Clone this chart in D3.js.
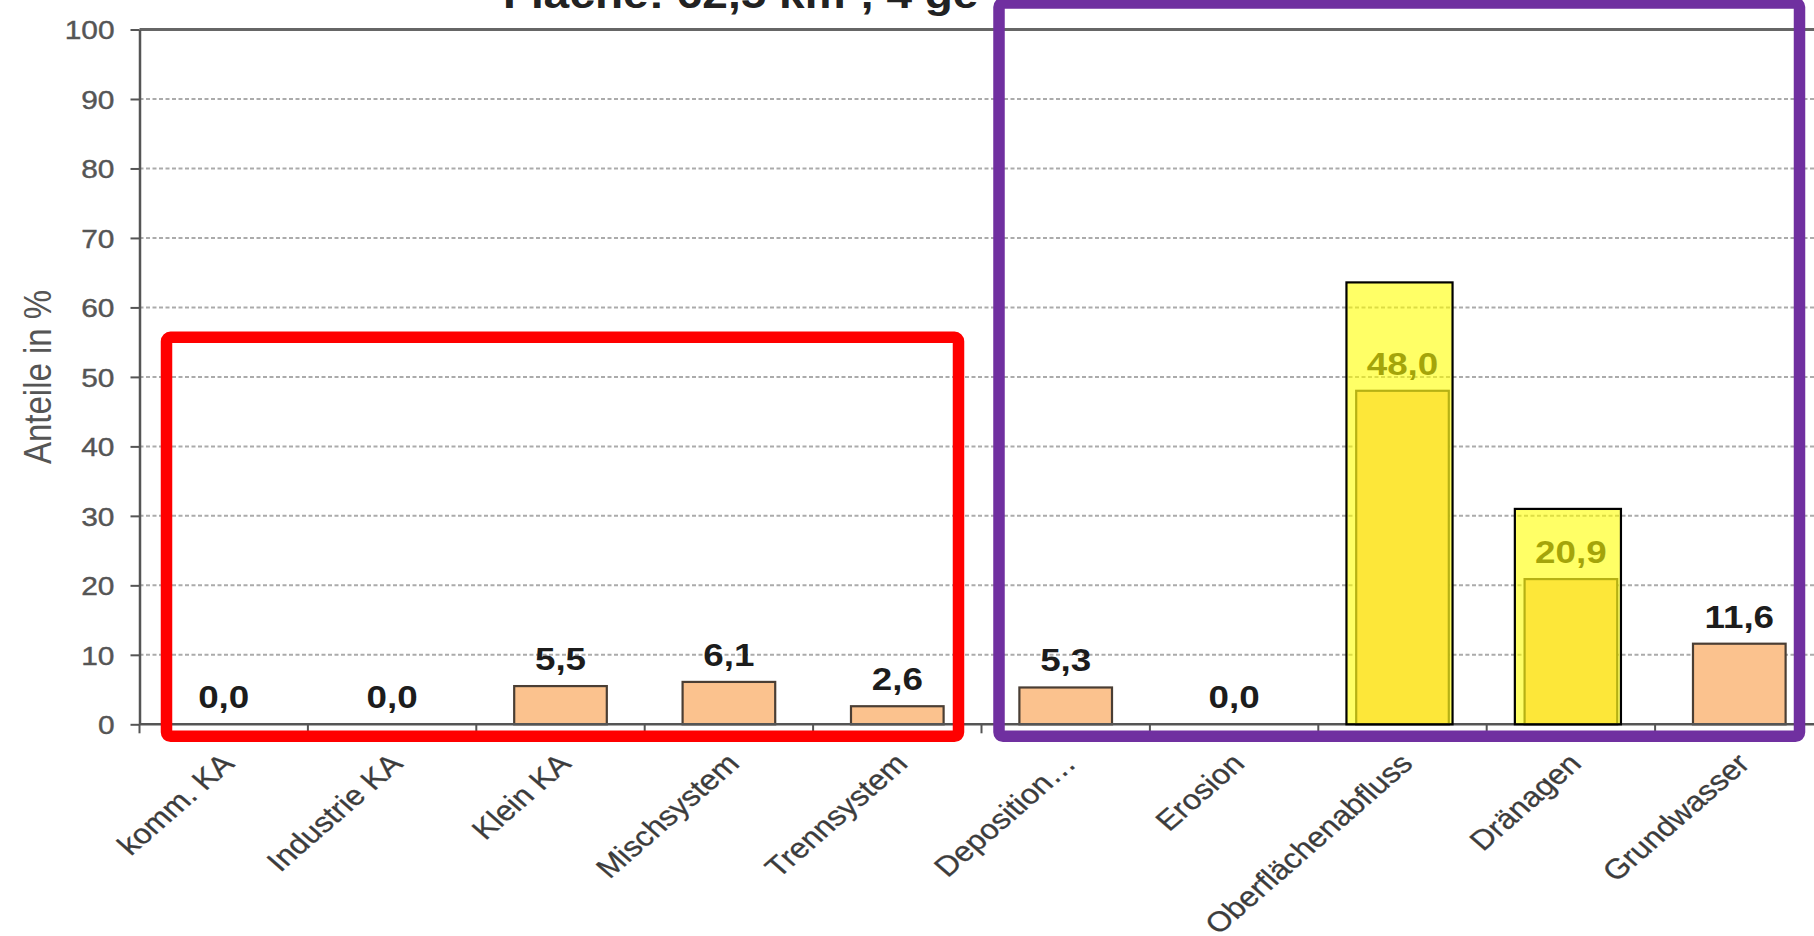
<!DOCTYPE html>
<html>
<head>
<meta charset="utf-8">
<script src="https://cdn.jsdelivr.net/npm/d3@7"></script>
<style>
  html, body { margin: 0; padding: 0; background: #fff; }
  svg { display: block; font-family: "Liberation Sans", Arial, sans-serif; }
</style>
</head>
<body>
<svg id="chart" width="1814" height="936"></svg>
<script>
// Source shares of the load (Anteile in %)
const categories = ["komm. KA", "Industrie KA", "Klein KA", "Mischsystem", "Trennsystem",
                    "Deposition…", "Erosion", "Oberflächenabfluss", "Dränagen", "Grundwasser"];
const values = [0.0, 0.0, 5.5, 6.1, 2.6, 5.3, 0.0, 48.0, 20.9, 11.6];
const yTicks = [0, 10, 20, 30, 40, 50, 60, 70, 80, 90, 100];

// Yellow highlight boxes laid over two of the bars (top in axis units)
const highlightCats = ["Oberflächenabfluss", "Dränagen"];
const highlightTops = [63.6, 31.0];

// Group frames around the point sources and the diffuse sources
const frameFrom = ["komm. KA", "Deposition…"];
const frameTo = ["Trennsystem", "Grundwasser"];
const frameTop = [55.7, 103.8];
const frameColors = ["#ff0000", "#7030a0"];

const titleText = "Fläche: 62,5 km², 4 ge";
const yTitle = "Anteile in %";

const svg = d3.select("#chart");
const stretch = 1.15;   // wide glyph proportions used throughout
const fmt = v => v.toFixed(1).replace(".", ",");

const x = d3.scaleBand(categories, [139.5, 1823.5]).paddingInner(0.45).paddingOuter(0.225);
const y = d3.scaleLinear([0, 100], [724.3, 29.5]);
const step = x.step();
const left = x.range()[0];
const slotStart = c => x(c) - step * x.paddingInner() / 2;
const slotEnd = c => x(c) + x.bandwidth() + step * x.paddingInner() / 2;

// Title (runs off the top edge)
svg.append("text")
  .attr("transform", `translate(503,8) scale(${stretch},1)`)
  .attr("font-size", 40).attr("font-weight", "bold").attr("fill", "#222")
  .text(titleText);

// Dashed gridlines
svg.append("g").selectAll("line")
  .data(yTicks.filter(t => t > 0 && t < 100))
  .join("line")
  .attr("x1", left).attr("x2", 1814)
  .attr("y1", d => y(d)).attr("y2", d => y(d))
  .attr("stroke", "#ababab").attr("stroke-width", 2).attr("stroke-dasharray", "4,2.5");

// Top border of the plot area
svg.append("line")
  .attr("x1", left).attr("x2", 1814).attr("y1", y(100)).attr("y2", y(100))
  .attr("stroke", "#666").attr("stroke-width", 3);

// Y axis
const yAxis = svg.append("g").attr("transform", `translate(${left},0)`)
  .call(d3.axisLeft(y).tickValues(yTicks).tickSize(9).tickSizeOuter(0));
yAxis.select(".domain").attr("stroke", "#555").attr("stroke-width", 2.5);
yAxis.selectAll(".tick line").attr("stroke", "#555").attr("stroke-width", 2);
yAxis.selectAll(".tick text")
  .attr("x", 0).attr("dy", "0.36em")
  .attr("transform", `translate(-25,0) scale(${stretch},1)`)
  .attr("font-size", 26).attr("fill", "#555").attr("text-anchor", "end")
  .attr("stroke", "#555").attr("stroke-width", 0.4);

svg.append("text")
  .attr("transform", `translate(51,${y(50)}) rotate(-90) scale(1,${stretch})`)
  .attr("text-anchor", "middle").attr("font-size", 33).attr("fill", "#555")
  .text(yTitle);

// Bars
svg.append("g").selectAll("rect")
  .data(values.map((v, i) => ({ c: categories[i], v })))
  .join("rect")
  .attr("x", d => x(d.c)).attr("width", x.bandwidth())
  .attr("y", d => y(d.v)).attr("height", d => y(0) - y(d.v))
  .attr("fill", "#fbc28e").attr("stroke", "#4a3e34").attr("stroke-width", 2.2)
  .attr("visibility", d => d.v > 0 ? "visible" : "hidden");

// Value labels
svg.append("g").selectAll("text")
  .data(values.map((v, i) => ({ c: categories[i], v })))
  .join("text")
  .attr("transform", d => `translate(${x(d.c) + x.bandwidth() / 2},${y(d.v) - 16}) scale(${stretch},1)`)
  .attr("text-anchor", "middle").attr("font-size", 32).attr("font-weight", "bold")
  .attr("fill", "#1c1c1c")
  .text(d => fmt(d.v));

// X axis line and boundary ticks
svg.append("line")
  .attr("x1", left).attr("x2", 1814).attr("y1", y(0)).attr("y2", y(0))
  .attr("stroke", "#555").attr("stroke-width", 2.5);
svg.append("g").selectAll("line")
  .data(d3.range(categories.length + 1))
  .join("line")
  .attr("x1", i => left + i * step).attr("x2", i => left + i * step)
  .attr("y1", y(0)).attr("y2", y(0) + 9)
  .attr("stroke", "#555").attr("stroke-width", 2);

// Category labels
const xAxis = svg.append("g").attr("transform", `translate(0,${y(0)})`)
  .call(d3.axisBottom(x).tickSize(0));
xAxis.select(".domain").remove();
xAxis.selectAll(".tick text")
  .attr("x", 0).attr("y", 0).attr("dy", 0)
  .attr("transform", `translate(12,41) scale(${stretch},1) rotate(-45)`)
  .attr("text-anchor", "end").attr("font-size", 28).attr("fill", "#3c3c3c")
  .attr("stroke", "#3c3c3c").attr("stroke-width", 0.3);

// Highlight overlays
svg.append("g").selectAll("rect")
  .data(highlightCats.map((c, i) => ({ c, top: highlightTops[i] })))
  .join("rect")
  .attr("x", d => x(d.c) + x.bandwidth() / 2 - 0.315 * step - 3)
  .attr("width", 0.63 * step)
  .attr("y", d => y(d.top)).attr("height", d => y(0) - y(d.top))
  .attr("fill", "#ffff00").attr("fill-opacity", 0.6)
  .attr("stroke", "#000").attr("stroke-width", 2.2);

// Group frames
const frameInsetL = [27, 17.5];
const frameInsetR = [23, 24];
svg.append("g").selectAll("rect")
  .data(frameFrom.map((f, i) => ({ f, t: frameTo[i], top: frameTop[i], color: frameColors[i], i })))
  .join("rect")
  .attr("x", d => slotStart(d.f) + frameInsetL[d.i])
  .attr("width", d => (slotEnd(d.t) - frameInsetR[d.i]) - (slotStart(d.f) + frameInsetL[d.i]))
  .attr("y", d => y(d.top)).attr("height", d => y(0) + 12 - y(d.top))
  .attr("rx", 4)
  .attr("fill", "none").attr("stroke", d => d.color).attr("stroke-width", 11.5);
</script>
</body>
</html>
